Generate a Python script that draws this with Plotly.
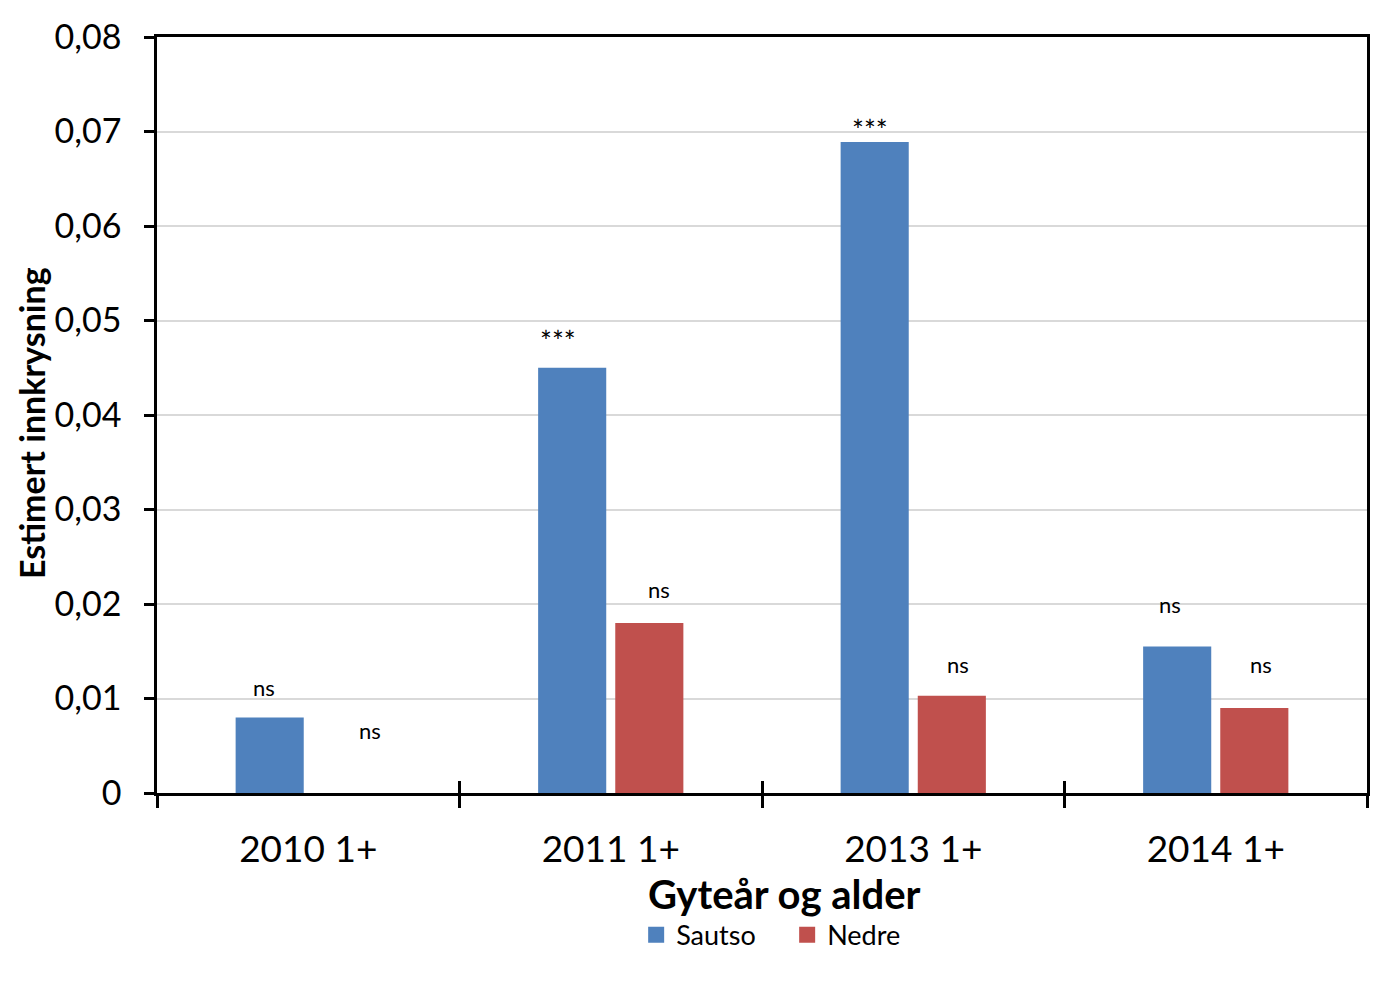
import plotly.graph_objects as go

# data
categorias = ['2010 1+', '2011 1+', '2013 1+', '2014 1+']
sautso = [0.0080, 0.0450, 0.0689, 0.0155]
nedre = [0.0, 0.0180, 0.0103, 0.0090]

# significance labels and their heights
sig_sautso = ['ns', '***', '***', 'ns']
sig_nedre = ['ns', 'ns', 'ns', 'ns']
sig_y_sautso = [0.0112, 0.0483, 0.0706, 0.0199]
sig_y_nedre = [0.0066, 0.0215, 0.0136, 0.0136]
sig_dx_sautso = [-44, -53, -43, -46]
sig_dx_nedre = [62, 48, 45, 45]

AZUL = '#4F81BD'
VERMELHO = '#C0504D'
FONTE = 'Lato, Open Sans, sans-serif'

fig = go.Figure()
fig.add_trace(go.Bar(name='Sautso', x=categorias, y=sautso, marker_color=AZUL,
                     marker_line_width=0, showlegend=False, legendgroup='s'))
fig.add_trace(go.Bar(name='Nedre', x=categorias, y=nedre, marker_color=VERMELHO,
                     marker_line_width=0, showlegend=False, legendgroup='n'))
# legend entries with larger square keys
for nome, cor, grupo in [('Sautso', AZUL, 's'), ('Nedre', VERMELHO, 'n')]:
    fig.add_trace(go.Scatter(x=[None], y=[None], mode='markers', name=nome,
                             legendgroup=grupo,
                             marker=dict(symbol='square', size=16, color=cor)))
# empty trace so the overlay axis (inner half of the category ticks) is drawn
fig.add_trace(go.Scatter(x=[None], y=[None], xaxis='x2', showlegend=False,
                         hoverinfo='skip'))


def rotulo(cat, txt, yy, dx):
    tam = 28 if txt == '***' else 22
    return dict(x=cat, y=yy, text=txt, xshift=dx, showarrow=False,
                yanchor='middle', yshift=-4 if txt == '***' else 0,
                font=dict(size=tam, color='black', family=FONTE))


anots = []
for cat, txt, yy, dx in zip(categorias, sig_sautso, sig_y_sautso, sig_dx_sautso):
    anots.append(rotulo(cat, txt, yy, dx))
for cat, txt, yy, dx in zip(categorias, sig_nedre, sig_y_nedre, sig_dx_nedre):
    anots.append(rotulo(cat, txt, yy, dx))

# axis titles
anots.append(dict(text='<b>Gyteår og alder</b>', xref='paper', yref='paper',
                  x=0.519, y=-0.134, showarrow=False, xanchor='center', yanchor='middle',
                  font=dict(size=40, color='black', family=FONTE)))
anots.append(dict(text='<b>Estimert innkrysning</b>', xref='paper', yref='paper',
                  x=-0.1035, y=0.489, showarrow=False, textangle=-90,
                  xanchor='center', yanchor='middle',
                  font=dict(size=34, color='black', family=FONTE)))

fig.update_layout(
    width=1369, height=965,
    paper_bgcolor='white', plot_bgcolor='white',
    barmode='group', bargap=0.49, bargroupgap=0.117,
    margin=dict(l=149, r=7, t=26, b=180),
    font=dict(family=FONTE, color='black'),
    showlegend=True,
    legend=dict(orientation='h', x=0.396, y=-0.188, xanchor='left', yanchor='middle',
                font=dict(size=27, color='black', family=FONTE),
                entrywidth=106, entrywidthmode='pixels',
                itemwidth=30, tracegroupgap=0, bgcolor='rgba(0,0,0,0)'),
    annotations=anots,
    xaxis=dict(type='category', showline=True, linecolor='black', linewidth=2.5,
               mirror=True, ticks='outside', tickson='boundaries', ticklen=12,
               tickwidth=2.5, tickcolor='black', ticklabelstandoff=22,
               tickfont=dict(size=37, color='black', family=FONTE),
               showgrid=False, zeroline=False),
    xaxis2=dict(overlaying='x', anchor='y', side='bottom', range=[-0.5, 3.5],
                tickvals=[-0.5, 0.5, 1.5, 2.5, 3.5], ticks='inside', ticklen=12,
                tickwidth=2.5, tickcolor='black', showticklabels=False,
                showgrid=False, zeroline=False, showline=False),
    yaxis=dict(range=[0, 0.08], showline=True, linecolor='black',
               linewidth=2.5, mirror=True, ticks='outside', ticklen=10,
               tickwidth=2.5, tickcolor='black', ticklabelstandoff=16,
               tickfont=dict(size=34, color='black', family=FONTE),
               showgrid=True, gridcolor='#d9d9d9', gridwidth=1.5, zeroline=False,
               tickvals=[0, 0.01, 0.02, 0.03, 0.04, 0.05, 0.06, 0.07, 0.08],
               ticktext=['0', '0,01', '0,02', '0,03', '0,04', '0,05', '0,06', '0,07', '0,08']),
)

fig.write_html('out.html')
